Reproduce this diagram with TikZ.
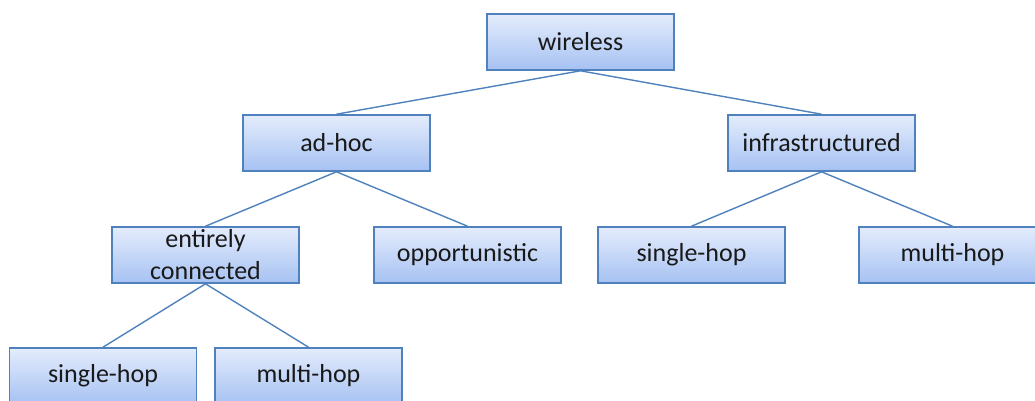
\documentclass[tikz,border=0pt]{standalone}
\usepackage{fontspec}
\setmainfont{Carlito}
\definecolor{boxline}{HTML}{4F81BD}
\definecolor{boxtop}{HTML}{E4ECFC}
\definecolor{boxbottom}{HTML}{A6C2F2}
\begin{document}
\begin{tikzpicture}[x=1pt,y=-1pt,
  catbox/.style={draw=boxline, line width=1.6pt, top color=boxtop, bottom color=boxbottom,
    minimum width=187pt, minimum height=56pt, inner sep=0pt, align=center,
    font=\fontsize{26}{32}\selectfont, text=black!90},
  link/.style={draw=boxline, line width=1.4pt}]
\useasboundingbox (0,0) rectangle (1035,401);
\clip (0,0) rectangle (1035,401);

% tree of network categories
\node[catbox] (wireless) at (580.5,42) {wireless};
\node[catbox] (adhoc) at (336.5,143) {ad-hoc};
\node[catbox] (infra) at (821.5,143) {infrastructured};
\node[catbox] (entire) at (205.5,255) {entirely\\connected};
\node[catbox] (opp) at (467.5,255) {opportunistic};
\node[catbox] (ishop) at (691.5,255) {single-hop};
\node[catbox] (imhop) at (952.5,255) {multi-hop};
\node[catbox] (eshop) at (103,376) {single-hop};
\node[catbox] (emhop) at (308.5,376) {multi-hop};

% connectors from each parent to its children
\draw[link] (wireless.south) -- (adhoc.north);
\draw[link] (wireless.south) -- (infra.north);
\draw[link] (adhoc.south) -- (entire.north);
\draw[link] (adhoc.south) -- (opp.north);
\draw[link] (infra.south) -- (ishop.north);
\draw[link] (infra.south) -- (imhop.north);
\draw[link] (entire.south) -- (eshop.north);
\draw[link] (entire.south) -- (emhop.north);
\end{tikzpicture}
\end{document}
